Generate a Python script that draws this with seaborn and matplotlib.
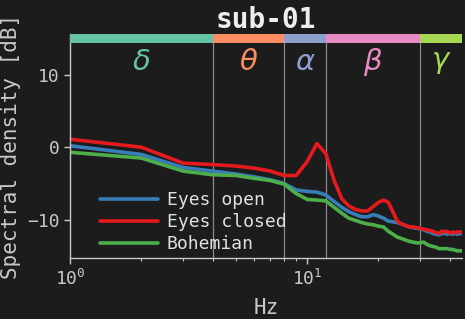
import numpy as np
import pandas as pd
import matplotlib
matplotlib.use("Agg")
import matplotlib.pyplot as plt
import seaborn as sns

freqs = list(range(1, 46))
eyes_open = [0.2, -1.0, -2.8, -3.3, -3.7, -4.1, -4.5, -5.0, -5.9, -6.1,
             -6.2, -6.6, -7.5, -8.3, -8.9, -9.3, -9.6, -9.6, -9.3, -9.5,
             -9.8, -10.2, -10.3, -10.4, -10.6, -10.8, -11.0, -11.1, -11.2, -11.25,
             -11.4, -11.6, -11.7, -11.9, -12.0, -12.1, -11.9, -11.9, -12.0, -11.9,
             -12.0, -11.9, -12.0, -11.9, -11.9]
eyes_closed = [1.1, 0.0, -2.2, -2.4, -2.6, -2.9, -3.3, -3.9, -3.9, -2.0,
               0.5, -0.9, -4.6, -7.1, -8.1, -8.6, -8.8, -8.8, -8.2, -7.6,
               -7.3, -7.6, -8.9, -10.2, -10.6, -10.8, -11.0, -11.0, -11.1, -11.2,
               -11.3, -11.4, -11.5, -11.6, -11.8, -11.9, -11.6, -11.7, -11.6, -11.85,
               -11.7, -11.8, -11.7, -11.7, -11.7]
bohemian = [-0.7, -1.5, -3.3, -3.8, -3.9, -4.3, -4.6, -5.1, -6.4, -7.2,
            -7.3, -7.4, -8.3, -9.1, -9.8, -10.1, -10.4, -10.6, -10.7, -10.9,
            -11.0, -11.6, -12.0, -12.4, -12.6, -12.8, -13.0, -13.1, -13.2, -13.2,
            -13.1, -13.4, -13.6, -13.7, -13.8, -14.0, -14.0, -14.0, -14.0, -14.1,
            -14.1, -14.2, -14.3, -14.3, -14.3]
series_names = ["Eyes open", "Eyes closed", "Bohemian"]
series_colors = ["#377eb8", "#e41a1c", "#4daf4a"]

band_names = [r"$\delta$", r"$\theta$", r"$\alpha$", r"$\beta$", r"$\gamma$"]
band_edges = [1, 4, 8, 12, 30, 45]
band_colors = ["#66c2a5", "#fc8d62", "#8da0cb", "#e78ac3", "#a6d854"]

bg = "#1c1c1c"
fg = "#c8c8c8"

sns.set_theme(style="dark")
plt.rcParams["font.family"] = ["DejaVu Sans Mono", "DejaVu Sans"]
plt.rcParams["mathtext.fontset"] = "custom"
plt.rcParams["mathtext.rm"] = "DejaVu Sans Mono"

df = pd.DataFrame({
    "Hz": freqs * 3,
    "psd": eyes_open + eyes_closed + bohemian,
    "cond": [series_names[0]] * len(freqs) + [series_names[1]] * len(freqs) + [series_names[2]] * len(freqs),
})

fig = plt.figure(figsize=(4.65, 3.19), dpi=100, facecolor=bg)
ax = fig.add_axes([0.1505, 0.191, 0.843, 0.702])
ax.set_facecolor(bg)

sns.lineplot(data=df, x="Hz", y="psd", hue="cond", hue_order=series_names,
             palette=dict(zip(series_names, series_colors)), linewidth=2.6, ax=ax)

ax.set_xscale("log")
ax.set_xlim(1, 45)
ax.set_ylim(-15.3, 15.6)

ytop = 0.96
for i in range(len(band_names)):
    lo, hi = band_edges[i], band_edges[i + 1]
    ax.axvspan(lo, hi, ymin=ytop, ymax=1.0, color=band_colors[i], lw=0, zorder=3)
    xc = np.sqrt(lo * hi)
    ax.text(xc, 11.8, band_names[i], color=band_colors[i], fontsize=21,
            ha="center", va="center", math_fontfamily="dejavusans")
    if i > 0:
        ax.axvline(lo, ymax=ytop, color="#8a8a8a", lw=0.9, zorder=1)

ax.set_yticks([-10, 0, 10])
ax.tick_params(axis="both", which="major", colors=fg, labelsize=13, length=4, width=1, left=True, bottom=True, direction="out")
ax.tick_params(axis="x", which="minor", colors=fg, length=2.5, width=0.8, bottom=True)
ax.tick_params(axis="x", which="major", pad=4)
for s in ["top", "right"]:
    ax.spines[s].set_visible(False)
for s in ["left", "bottom"]:
    ax.spines[s].set_visible(True)
    ax.spines[s].set_color(fg)
    ax.spines[s].set_linewidth(1)
ax.grid(False)

ax.set_xlabel("Hz", color=fg, fontsize=15, labelpad=6)
ax.set_ylabel("Spectral density [dB]", color=fg, fontsize=15)
ax.set_title("sub-01", color="#eeeeee", fontsize=20, fontweight="bold", pad=3)

leg = ax.legend(loc="lower left", bbox_to_anchor=(0.035, -0.05), frameon=False,
                fontsize=13, handlelength=3.2, labelspacing=0.22, handletextpad=0.5)
for t in leg.get_texts():
    t.set_color("#e0e0e0")
for l in leg.get_lines():
    l.set_linewidth(2.6)

fig.savefig("out.png", dpi=100, facecolor=bg)
